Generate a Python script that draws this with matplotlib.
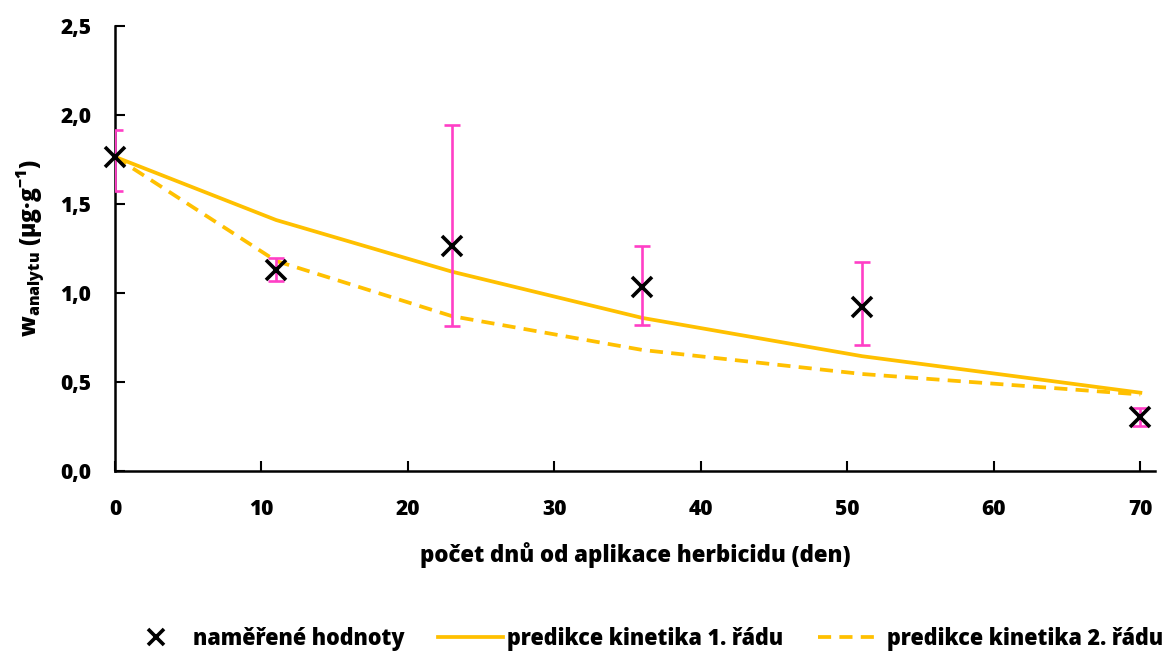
import numpy as np
import matplotlib
matplotlib.use("Agg")
import matplotlib.pyplot as plt

plt.rcParams['font.family'] = ['Open Sans', 'DejaVu Sans']
plt.rcParams['font.weight'] = 'heavy'
plt.rcParams['axes.labelweight'] = 'heavy'
plt.rcParams['mathtext.fontset'] = 'custom'
plt.rcParams['mathtext.rm'] = 'Open Sans:heavy'
plt.rcParams['mathtext.it'] = 'Open Sans:heavy'
plt.rcParams['mathtext.bf'] = 'Open Sans:heavy'

# measured values (days, concentration, error below / above)
days = [0, 11, 23, 36, 51, 70]
measured = [1.765, 1.13, 1.266, 1.035, 0.92, 0.305]
err_low = [0.19, 0.064, 0.451, 0.215, 0.212, 0.05]
err_high = [0.15, 0.064, 0.678, 0.23, 0.256, 0.05]

# model predictions at the same days
pred_first = [1.765, 1.41, 1.12, 0.86, 0.645, 0.44]
pred_second = [1.765, 1.18, 0.87, 0.68, 0.545, 0.43]

yellow = '#FFC000'
pink = '#FF3FC6'

fig = plt.figure(figsize=(11.76, 6.57), dpi=100)
ax = fig.add_axes([115 / 1176, 1 - 471 / 657, 1040 / 1176, 445 / 657])

l1, = ax.plot(days, pred_first, color=yellow, lw=2.7, zorder=2,
              label='predikce kinetika 1. řádu')
l2, = ax.plot(days, pred_second, color=yellow, lw=2.7, ls=(0, (3.5, 2.2)),
              zorder=2, label='predikce kinetika 2. řádu')
ax.errorbar(days, measured, yerr=[err_low, err_high], fmt='none', ecolor=pink,
            elinewidth=1.9, capsize=6, capthick=1.9, zorder=3)
m, = ax.plot(days, measured, ls='none', marker='x', color='black',
             ms=15, mew=2.6, zorder=4, clip_on=False, label='naměřené hodnoty')

ax.set_xlim(0, 71)
ax.set_ylim(0, 2.5)
ax.set_xticks(np.arange(0, 71, 10))
yt = np.arange(0, 2.51, 0.5)
ax.set_yticks(yt)
ax.set_yticklabels([f'{v:.1f}'.replace('.', ',') for v in yt])
ax.tick_params(direction='in', length=7, width=1.5, labelsize=15)
ax.tick_params(axis='y', pad=17)
ax.tick_params(axis='x', pad=20)
for s in ['top', 'right']:
    ax.spines[s].set_visible(False)
for s in ['left', 'bottom']:
    ax.spines[s].set_linewidth(1.8)

ax.set_xlabel('počet dnů od aplikace herbicidu (den)', fontsize=16,
              labelpad=16)
ax.set_ylabel(r'w$_{\mathrm{analytu}}$ (µg·g$^{\mathrm{-1}}$)', fontsize=16.5,
              labelpad=10)

fig.legend(handles=[m, l1, l2], loc='lower center', bbox_to_anchor=(0.547, -0.02),
           ncol=3, frameon=False, fontsize=15.5, handlelength=3.0,
           columnspacing=1.6, handletextpad=0.2, markerscale=0.8)

fig.savefig('out.png', dpi=100)
